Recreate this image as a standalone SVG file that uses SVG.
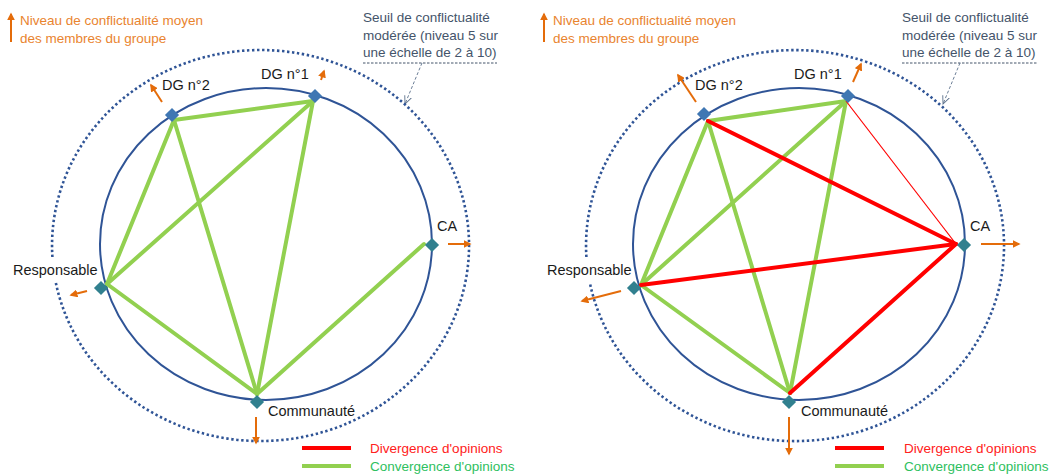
<svg xmlns="http://www.w3.org/2000/svg" width="1051" height="476" viewBox="0 0 1051 476">
<style>
text{font-family:"Liberation Sans",Arial,sans-serif}
.lbl{font-size:14.5px;fill:#1a1a1a}
.org{font-size:13.5px;fill:#e9842f}
.seuil{font-size:13.5px;fill:#44546a}
.inner{fill:none;stroke:#2f5496;stroke-width:2}
.outer{fill:none;stroke:#2f5496;stroke-width:2.6;stroke-dasharray:2.4 2.6}
.g{stroke:#92d050;stroke-width:4;stroke-linecap:round}
.r{stroke:#ff0000;stroke-width:4;stroke-linecap:round}
.rt{stroke:#ff0000;stroke-width:1.2}
.arr{stroke:#e46c0a;stroke-width:2;fill:none;marker-end:url(#ah)}
.dgn{fill:#3f77b3}
.tn{fill:#31808f}
.call{stroke:#5a6f8a;stroke-width:0.9;stroke-dasharray:3 2;fill:none}
.und{stroke:#44546a;stroke-width:1;stroke-dasharray:2.5 1.5}
.div{font-size:13.5px;fill:#ff2020}
.conv{font-size:13.5px;fill:#2ec060}
</style>
<defs>
<marker id="ah" viewBox="0 0 10 10" refX="8" refY="5" markerWidth="4" markerHeight="4" orient="auto" markerUnits="strokeWidth">
<path d="M0,0 L10,5 L0,10 z" fill="#e46c0a"/>
</marker>
<marker id="oh" viewBox="0 0 10 10" refX="9" refY="5" markerWidth="9" markerHeight="9" orient="auto" markerUnits="userSpaceOnUse">
<path d="M0,1 L9,5 L0,9" fill="none" stroke="#5a6f8a" stroke-width="1"/>
</marker>
</defs>

<!-- LEFT PANEL -->
<g id="left-legend">
<line class="arr" x1="11" y1="42" x2="11" y2="14"/>
<text class="org" x="20" y="25">Niveau de conflictualité moyen</text>
<text class="org" x="20" y="43">des membres du groupe</text>
<text class="seuil" x="363" y="22">Seuil de conflictualité</text>
<text class="seuil" x="363" y="40">modérée (niveau 5 sur</text>
<text class="seuil" x="363" y="57">une échelle de 2 à 10)</text>
<line class="und" x1="363" y1="63" x2="497" y2="63"/>
<path class="call" d="M422,63 L405,104" marker-end="url(#oh)"/>
</g>
<g id="left-circles">
<ellipse class="inner" cx="266" cy="244" rx="166" ry="156"/>
<path class="outer" d="M52.4,257 A208.5,195.5 0 1 1 55.7,282"/>
</g>
<g id="left-connectors">
<line class="g" x1="174" y1="120" x2="313" y2="101"/>
<line class="g" x1="174" y1="120" x2="107" y2="284"/>
<line class="g" x1="174" y1="120" x2="257" y2="394"/>
<line class="g" x1="313" y1="101" x2="107" y2="284"/>
<line class="g" x1="313" y1="101" x2="257" y2="394"/>
<line class="g" x1="107" y1="284" x2="257" y2="394"/>
<line class="g" x1="424" y1="244" x2="257" y2="394"/>
</g>
<g id="left-dg1">
<rect class="dgn" x="-5" y="-5" width="10" height="10" transform="translate(315,96) rotate(45)"/>
<text class="lbl" x="261" y="79">DG n°1</text>
<line class="arr" x1="321" y1="80" x2="324" y2="71"/>
</g>
<g id="left-dg2">
<rect class="dgn" x="-5" y="-5" width="10" height="10" transform="translate(172,115) rotate(45)"/>
<text class="lbl" x="162" y="90">DG n°2</text>
<line class="arr" x1="162" y1="102" x2="151" y2="85"/>
</g>
<g id="left-ca">
<rect class="tn" x="-5" y="-5" width="10" height="10" transform="translate(432,245) rotate(45)"/>
<text class="lbl" x="437" y="231">CA</text>
<line class="arr" x1="448" y1="244" x2="470" y2="244"/>
</g>
<g id="left-resp">
<rect class="tn" x="-5" y="-5" width="10" height="10" transform="translate(101,288) rotate(45)"/>
<text class="lbl" x="13" y="275">Responsable</text>
<line class="arr" x1="87" y1="291" x2="71" y2="295"/>
</g>
<g id="left-comm">
<rect class="tn" x="-5" y="-5" width="10" height="10" transform="translate(257,402) rotate(45)"/>
<text class="lbl" x="268" y="416">Communauté</text>
<line class="arr" x1="256" y1="417" x2="256" y2="443"/>
</g>
<g id="left-key">
<line class="r" x1="302" y1="448" x2="351" y2="448" style="stroke-linecap:butt"/>
<line class="g" x1="302" y1="466" x2="351" y2="466" style="stroke-linecap:butt"/>
<text class="div" x="370" y="453">Divergence  d'opinions</text>
<text class="conv" x="370" y="471">Convergence d'opinions</text>
</g>

<!-- RIGHT PANEL -->
<g id="right-legend">
<line class="arr" x1="544" y1="42" x2="544" y2="14"/>
<text class="org" x="553" y="25">Niveau de conflictualité moyen</text>
<text class="org" x="553" y="43">des membres du groupe</text>
<text class="seuil" x="902" y="22">Seuil de conflictualité</text>
<text class="seuil" x="902" y="40">modérée (niveau 5 sur</text>
<text class="seuil" x="902" y="57">une échelle de 2 à 10)</text>
<line class="und" x1="902" y1="63" x2="1037" y2="63"/>
<path class="call" d="M960,63 L943,104" marker-end="url(#oh)"/>
</g>
<g id="right-circles">
<ellipse class="inner" cx="799" cy="244" rx="166" ry="156"/>
<path class="outer" d="M586.4,257 A209,195.5 0 1 1 589.7,282"/>
</g>
<g id="right-connectors">
<line class="g" x1="708" y1="121" x2="846" y2="101"/>
<line class="g" x1="708" y1="121" x2="641" y2="285"/>
<line class="g" x1="708" y1="121" x2="790" y2="393"/>
<line class="g" x1="846" y1="101" x2="641" y2="285"/>
<line class="g" x1="846" y1="101" x2="790" y2="393"/>
<line class="g" x1="641" y1="285" x2="790" y2="393"/>
<line class="r" x1="708" y1="121" x2="956" y2="244"/>
<line class="rt" x1="846" y1="101" x2="956" y2="244"/>
<line class="r" x1="641" y1="285" x2="956" y2="244"/>
<line class="r" x1="790" y1="393" x2="956" y2="244"/>
</g>
<g id="right-dg1">
<rect class="dgn" x="-5" y="-5" width="10" height="10" transform="translate(848,96) rotate(45)"/>
<text class="lbl" x="794" y="79">DG n°1</text>
<line class="arr" x1="853" y1="82" x2="861" y2="64"/>
</g>
<g id="right-dg2">
<rect class="dgn" x="-5" y="-5" width="10" height="10" transform="translate(704,114) rotate(45)"/>
<text class="lbl" x="695" y="90">DG n°2</text>
<line class="arr" x1="696" y1="102" x2="678" y2="75"/>
</g>
<g id="right-ca">
<rect class="tn" x="-5" y="-5" width="10" height="10" transform="translate(964,245) rotate(45)"/>
<text class="lbl" x="970" y="231">CA</text>
<line class="arr" x1="981" y1="244" x2="1019" y2="244"/>
</g>
<g id="right-resp">
<rect class="tn" x="-5" y="-5" width="10" height="10" transform="translate(634,288) rotate(45)"/>
<text class="lbl" x="547" y="275">Responsable</text>
<line class="arr" x1="621" y1="291" x2="582" y2="301"/>
</g>
<g id="right-comm">
<rect class="tn" x="-5" y="-5" width="10" height="10" transform="translate(789,402) rotate(45)"/>
<text class="lbl" x="801" y="416">Communauté</text>
<line class="arr" x1="789" y1="417" x2="789" y2="454"/>
</g>
<g id="right-key">
<line class="r" x1="835" y1="448" x2="884" y2="448" style="stroke-linecap:butt"/>
<line class="g" x1="835" y1="466" x2="884" y2="466" style="stroke-linecap:butt"/>
<text class="div" x="904" y="453">Divergence  d'opinions</text>
<text class="conv" x="904" y="471">Convergence d'opinions</text>
</g>
</svg>
